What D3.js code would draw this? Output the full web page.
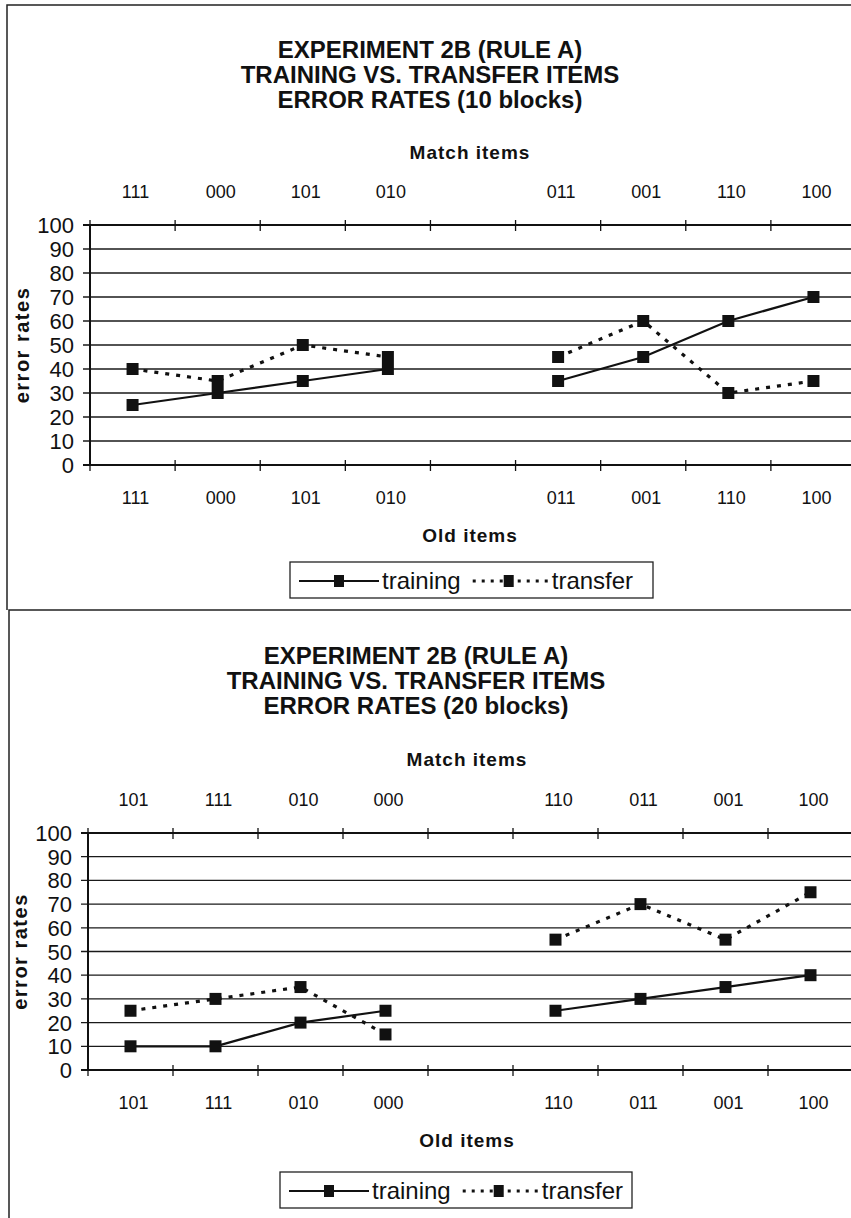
<!DOCTYPE html>
<html><head><meta charset="utf-8">
<script src="https://cdn.jsdelivr.net/npm/d3@7/dist/d3.min.js"></script>
<style>body{margin:0;background:#fff}svg{display:block}</style>
</head><body>
<svg id="c" width="851" height="1218"></svg>
<script>
// ---------- data ----------
const yTicks = [0,10,20,30,40,50,60,70,80,90,100];
const catsA = ["111","000","101","010","","011","001","110","100"];
const trainingA = [25,30,35,40,null,35,45,60,70];
const transferA = [40,35,50,45,null,45,60,30,35];
const titleA = ["EXPERIMENT 2B (RULE A)","TRAINING VS. TRANSFER ITEMS","ERROR RATES (10 blocks)"];

const catsB = ["101","111","010","000","","110","011","001","100"];
const trainingB = [10,10,20,25,null,25,30,35,40];
const transferB = [25,30,35,15,null,55,70,55,75];
const titleB = ["EXPERIMENT 2B (RULE A)","TRAINING VS. TRANSFER ITEMS","ERROR RATES (20 blocks)"];

const seriesNames = ["training","transfer"];

const svg = d3.select("#c");
const FONT = "'Liberation Sans', Arial, sans-serif";
const INK = "#111";

// frames
const frame = svg.append("g").attr("stroke","#222").attr("stroke-width",1.5).attr("fill","none");
frame.append("path").attr("d","M7,610 L7,5 L851,5");
frame.append("path").attr("d","M9,1218 L9,610 L851,610");

function drawChart(cfg){
  const g = svg.append("g");
  const x = d3.scaleBand().domain(d3.range(cfg.cats.length)).range([cfg.x0, cfg.x1]);
  const y = d3.scaleLinear().domain([0,100]).range([cfg.y0, cfg.y1]);

  // titles
  cfg.title.forEach((t,i)=>{
    g.append("text").attr("x",cfg.tx).attr("y",cfg.ty + i*25)
      .attr("text-anchor","middle").attr("font-family",FONT).attr("font-weight","bold")
      .attr("font-size",24).attr("fill",INK).text(t);
  });
  g.append("text").attr("x",cfg.mx).attr("y",cfg.my).attr("text-anchor","middle")
    .attr("font-family",FONT).attr("font-weight","bold").attr("font-size",19)
    .attr("letter-spacing",1).attr("fill",INK).text("Match items");
  g.append("text").attr("x",cfg.mx).attr("y",cfg.y0+77).attr("text-anchor","middle")
    .attr("font-family",FONT).attr("font-weight","bold").attr("font-size",19)
    .attr("letter-spacing",1).attr("fill",INK).text("Old items");

  // gridlines
  g.append("g").selectAll("line").data(yTicks.filter(v=>v>0 && v<100)).join("line")
    .attr("x1",cfg.x0-7).attr("x2",851).attr("y1",d=>y(d)).attr("y2",d=>y(d))
    .attr("stroke","#1a1a1a").attr("stroke-width",1.3);
  [0,100].forEach(v=>{
    g.append("line").attr("x1",cfg.x0-7).attr("x2",851).attr("y1",y(v)).attr("y2",y(v))
      .attr("stroke","#111").attr("stroke-width",2);
  });
  g.append("line").attr("x1",cfg.x0).attr("x2",cfg.x0).attr("y1",y(100)).attr("y2",y(0))
    .attr("stroke","#111").attr("stroke-width",2);
  // y labels
  g.append("g").selectAll("text").data(yTicks).join("text")
    .attr("x",cfg.x0-16).attr("y",d=>y(d)+8).attr("text-anchor","end")
    .attr("font-family",FONT).attr("font-size",22).attr("fill",INK).text(d=>d);
  g.append("text").attr("transform",`translate(${cfg.x0-61},${y(50)}) rotate(-90)`)
    .attr("text-anchor","middle").attr("font-family",FONT).attr("font-weight","bold")
    .attr("font-size",20).attr("letter-spacing",1.5).attr("fill",INK).text("error rates");

  // x ticks (cross) at band boundaries
  const bounds = d3.range(cfg.cats.length+1).map(i=>cfg.x0 + i*x.step());
  [y(0),y(100)].forEach(yy=>{
    g.append("g").selectAll("line").data(bounds).join("line")
      .attr("x1",d=>d).attr("x2",d=>d).attr("y1",yy-5).attr("y2",yy+6)
      .attr("stroke","#111").attr("stroke-width",1.3);
  });
  // category labels top and bottom
  [cfg.y1-27, cfg.y0+39].forEach(yy=>{
    g.append("g").selectAll("text").data(cfg.cats).join("text")
      .attr("x",(d,i)=>x(i)+x.bandwidth()/2+3).attr("y",yy).attr("text-anchor","middle")
      .attr("font-family",FONT).attr("font-size",18).attr("fill",INK).text(d=>d);
  });

  const line = d3.line().defined(d=>d!=null).x((d,i)=>x(i)+x.bandwidth()/2).y(d=>y(d));
  g.append("path").datum(cfg.transfer).attr("d",line).attr("fill","none")
    .attr("stroke","#111").attr("stroke-width",3.2).attr("stroke-dasharray","4,7");
  g.append("path").datum(cfg.training).attr("d",line).attr("fill","none")
    .attr("stroke","#111").attr("stroke-width",2.2);
  const ms = 12;
  [cfg.training,cfg.transfer].forEach(s=>{
    g.append("g").selectAll("rect").data(s.map((v,i)=>({v,i})).filter(d=>d.v!=null)).join("rect")
      .attr("x",d=>x(d.i)+x.bandwidth()/2-ms/2).attr("y",d=>y(d.v)-ms/2)
      .attr("width",ms).attr("height",ms).attr("fill","#111");
  });

  // legend
  const L = g.append("g").attr("transform",`translate(${cfg.lx},${cfg.ly})`);
  L.append("rect").attr("x",0).attr("y",0).attr("width",cfg.lw).attr("height",36)
    .attr("fill","#fff").attr("stroke","#222").attr("stroke-width",1.3);
  let cx = 9;
  seriesNames.forEach((name,k)=>{
    const dotted = k===1;
    const keyW = 80;
    L.append("line").attr("x1",cx).attr("x2",cx+keyW).attr("y1",19).attr("y2",19)
      .attr("stroke","#111").attr("stroke-width",dotted?3:2)
      .attr("stroke-dasharray",dotted?"3,6":null).attr("stroke-dashoffset",dotted?-4:null);
    L.append("rect").attr("x",cx+keyW/2-5).attr("y",13).attr("width",10).attr("height",12).attr("fill","#111");
    const t = L.append("text").attr("x",cx+keyW+3).attr("y",27).attr("font-family",FONT).attr("font-size",24)
      .attr("fill",INK).text(name);
    cx = cx + keyW + 3 + t.node().getComputedTextLength() + 8;
  });
}

drawChart({cats:catsA,training:trainingA,transfer:transferA,title:titleA,
  x0:90,x1:856,y0:465,y1:225,tx:430,ty:58,mx:470,my:159,lx:290,ly:562,lw:363});
drawChart({cats:catsB,training:trainingB,transfer:transferB,title:titleB,
  x0:88,x1:853,y0:1070,y1:833,tx:416,ty:664,mx:467,my:766,lx:280,ly:1172,lw:352});
</script>
</body></html>
